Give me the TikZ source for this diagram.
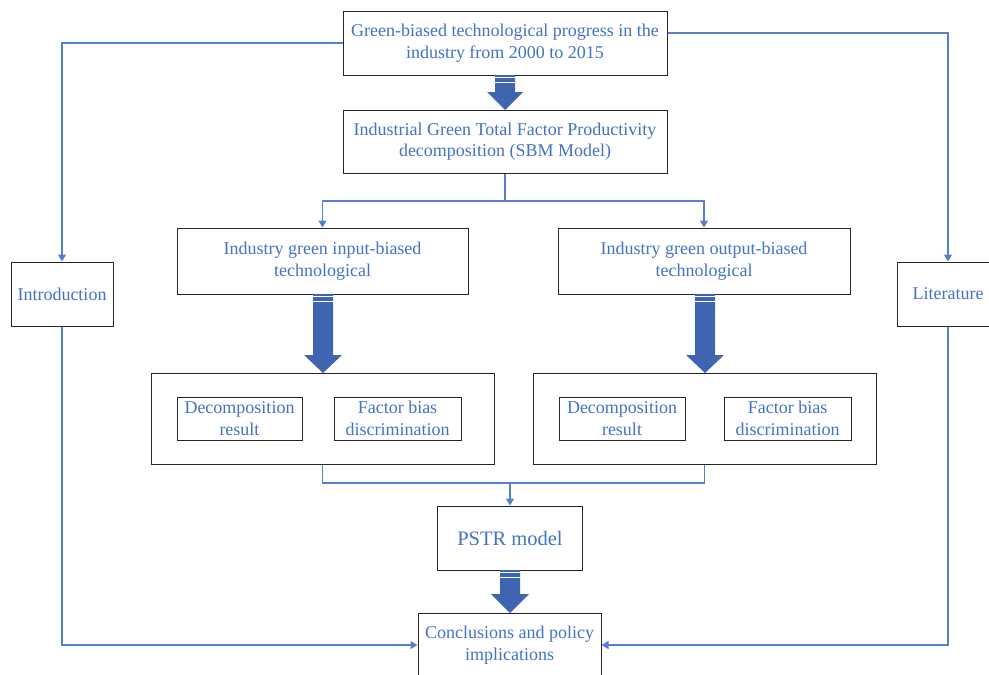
\documentclass[tikz,border=0pt]{standalone}
\usepackage{fontspec}
\setmainfont{Liberation Serif}
\usetikzlibrary{arrows.meta}
\definecolor{txtblue}{HTML}{4472C4}
\definecolor{lineblue}{HTML}{5680CC}
\definecolor{fatblue}{HTML}{3F65B1}
\pgfdeclarelayer{nodelayer}
\pgfdeclarelayer{edgelayer}
\pgfsetlayers{edgelayer,nodelayer,main}
\tikzset{box/.style={draw=black!85, line width=1pt, fill=white, text=txtblue, align=center, inner sep=0pt, font=\fontsize{18}{21.5}\selectfont}}
\tikzset{plain/.style={draw=lineblue, line width=1.2pt}}
\tikzset{link/.style={plain, -{Triangle[length=7pt,width=8pt]}}}
% x, top, head start, tip, half shaft, half head
\newcommand{\fatarrow}[6]{%
\fill [fatblue] (#1-#5,#2) -- (#1+#5,#2) -- (#1+#5,#3) -- (#1+#6,#3) -- (#1,#4) -- (#1-#6,#3) -- (#1-#5,#3) -- cycle;
\draw [white, line width=0.6pt] (#1-#5,#2+2.5) -- (#1+#5,#2+2.5);
\draw [white, line width=0.6pt] (#1-#5,#2+7) -- (#1+#5,#2+7);
}

\begin{document}
\begin{tikzpicture}[x=1pt, y=-1pt]
        \useasboundingbox (0,0) rectangle (989,675);
        \begin{pgfonlayer}{nodelayer}
            \node [box, minimum width=324, minimum height=64] (0) at (505, 43) {Green-biased technological progress in the\\industry from 2000 to 2015};
            \node [box, minimum width=324, minimum height=63] (1) at (505, 141.5) {Industrial Green Total Factor Productivity\\decomposition (SBM Model)};
            \node [box, minimum width=291, minimum height=66] (2) at (322.5, 261) {Industry green input-biased\\technological};
            \node [box, minimum width=292, minimum height=66] (3) at (704, 261) {Industry green output-biased\\technological};
            \node [box, minimum width=343, minimum height=91] (4) at (322.5, 418.5) {};
            \node [box, minimum width=343, minimum height=91] (5) at (704.5, 418.5) {};
            \node [box, minimum width=125, minimum height=43] (6) at (239.5, 418.5) {Decomposition\\result};
            \node [box, minimum width=127, minimum height=43] (7) at (397.5, 418.5) {Factor bias\\discrimination};
            \node [box, minimum width=126, minimum height=43] (16) at (622, 418.5) {Decomposition\\result};
            \node [box, minimum width=127, minimum height=43] (17) at (787.5, 418.5) {Factor bias\\discrimination};
            \node [box, minimum width=145, minimum height=64, font=\fontsize{20.5}{24}\selectfont] (8) at (510, 538) {PSTR model};
            \node [box, minimum width=183, minimum height=64] (9) at (509.5, 645) {Conclusions and policy\\implications};
            \node [box, minimum width=102, minimum height=64] (10) at (62, 294) {Introduction};
            \node [box, minimum width=102, minimum height=64] (11) at (948, 294) {Literature};
        \end{pgfonlayer}
        \begin{pgfonlayer}{edgelayer}
            \coordinate (20) at (505, 201);
            \coordinate (21) at (510, 483);
            \draw [link] (0.west) -| (10);
            \draw [link] ([yshift=10pt]0.east) -| (11);
            \draw [plain] (1) -- (20);
            \draw [link] (20) -| (2);
            \draw [link] (20) -| (3);
            \draw [plain] (4) |- (21);
            \draw [plain] (5) |- (21);
            \draw [link] (21) -- (8);
            \draw [link] (10) |- (9);
            \draw [link] (11) |- (9);
        \end{pgfonlayer}
        \fatarrow{505}{75}{92}{110}{10}{18}
        \fatarrow{323}{294}{355}{373}{10}{19}
        \fatarrow{705}{294}{355}{373}{10}{19}
        \fatarrow{510}{570}{594}{613}{10}{19}
    \end{tikzpicture}
\end{document}
